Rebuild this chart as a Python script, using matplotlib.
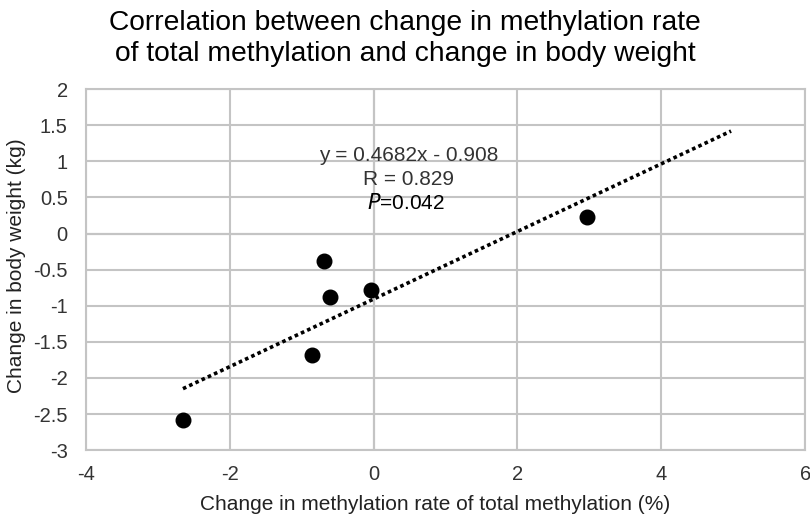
import numpy as np
import matplotlib
matplotlib.use('Agg')
import matplotlib.pyplot as plt

plt.rcParams['font.family'] = ['Liberation Sans', 'DejaVu Sans']
plt.rcParams['axes.unicode_minus'] = False

# data
meth_change = [-2.65, -0.86, -0.69, -0.60, -0.03, 2.97]
weight_change = [-2.58, -1.68, -0.375, -0.875, -0.78, 0.235]
slope = 0.4682
intercept = -0.908
forecast_fwd = 2.0
x_ticks = [-4, -2, 0, 2, 4, 6]
y_ticks = [2, 1.5, 1, 0.5, 0, -0.5, -1, -1.5, -2, -2.5, -3]

fig = plt.figure(figsize=(8.1, 5.18), dpi=100)
ax = fig.add_axes([0.106, 0.131, 0.888, 0.697])

ax.set_xlim(-4, 6)
ax.set_ylim(-3, 2)
ax.set_xticks(x_ticks)
ax.set_yticks(y_ticks)
ax.set_xticklabels([f'{v:g}' for v in x_ticks])
ax.set_yticklabels([f'{v:g}' for v in y_ticks])
ax.grid(True, color='#c4c4c4', linewidth=1.5, zorder=0)
ax.axhline(0, color='#a6a6a6', linewidth=1.5, zorder=1)
ax.axvline(0, color='#a6a6a6', linewidth=1.5, zorder=1)
for s in ax.spines.values():
    s.set_color('#c4c4c4')
    s.set_linewidth(1.5)
ax.tick_params(length=0, labelsize=14.5, colors='#333333')
ax.tick_params(axis='y', pad=13)
ax.tick_params(axis='x', pad=11)

# trendline
xt = np.array([min(meth_change), max(meth_change) + forecast_fwd])
ax.plot(xt, slope * xt + intercept, color='black', linestyle=(0, (1, 0.9)),
        linewidth=2.6, zorder=2)

ax.scatter(meth_change, weight_change, s=110, color='black', zorder=3)

ax.text(0.49, 1.08, f'y = {slope}x - {abs(intercept)}', ha='center', va='center',
        fontsize=15, color='#333333')
ax.text(0.49, 0.75, 'R = 0.829', ha='center', va='center', fontsize=15, color='#333333')
ax.text(0.45, 0.42, r'$\it{P}$=0.042', ha='center', va='center', fontsize=15, color='black')

ax.set_xlabel('Change in methylation rate of total methylation (%)', fontsize=15,
              color='#222222')
ax.xaxis.set_label_coords(0.485, -0.125)
ax.set_ylabel('Change in body weight (kg)', fontsize=15, color='#222222')
ax.yaxis.set_label_coords(-0.083, 0.51)

fig.text(0.5, 0.925, 'Correlation between change in methylation rate\nof total methylation and change in body weight',
         ha='center', va='center', fontsize=20.3, linespacing=1.25, color='black')

fig.savefig('out.png', dpi=100)
